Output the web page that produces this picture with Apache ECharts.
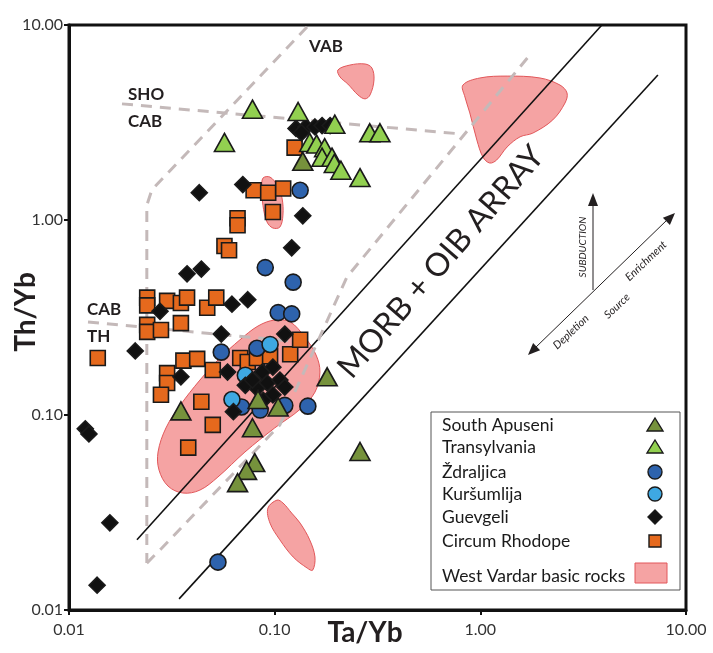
<!DOCTYPE html>
<html>
<head>
<meta charset="utf-8">
<script src="https://cdn.jsdelivr.net/npm/echarts@6/dist/echarts.min.js"></script>
<style>html,body{margin:0;padding:0;background:#fff}#chart{width:713px;height:653px}</style>
</head>
<body>
<div id="chart"></div>
<script>
// ---- Data (Ta/Yb, Th/Yb) ----
const tickLabels = ['0.01', '0.10', '1.00', '10.00'];
const axisTitles = ['Ta/Yb', 'Th/Yb'];
const seriesNames = ['South Apuseni', 'Transylvania', 'Ždraljica', 'Kuršumlija', 'Guevgeli', 'Circum Rhodope'];
const areaName = 'West Vardar basic rocks';

const southApuseni = [[0.035,0.105],[0.078,0.086],[0.080,0.057],[0.073,0.052],[0.066,0.045],[0.18,0.157],[0.26,0.065],[0.083,0.12],[0.104,0.11],[0.137,2.0]];
const transylvania = [[0.057,2.5],[0.078,3.7],[0.13,3.6],[0.196,3.1],[0.29,2.8],[0.325,2.8],[0.148,2.5],[0.16,2.45],[0.175,2.35],[0.17,2.1],[0.19,2.1],[0.195,1.95],[0.21,1.8],[0.26,1.65]];
const zdraljica = [[0.133,1.42],[0.09,0.57],[0.123,0.48],[0.104,0.335],[0.121,0.33],[0.055,0.21],[0.069,0.11],[0.085,0.106],[0.112,0.112],[0.145,0.111],[0.082,0.22],[0.053,0.0176]];
const kursumlija = [[0.095,0.23],[0.072,0.16],[0.062,0.12]];
const guevgeli = [[0.043,1.38],[0.07,1.52],[0.137,1.05],[0.121,0.72],[0.0375,0.53],[0.044,0.56],[0.062,0.37],[0.074,0.39],[0.0277,0.34],[0.021,0.213],[0.012,0.085],[0.0125,0.08],[0.0158,0.028],[0.0137,0.0134],[0.127,2.95],[0.142,3.0],[0.157,3.0],[0.17,3.05],[0.186,3.05],[0.135,2.8],[0.055,0.26],[0.112,0.26],[0.059,0.166],[0.087,0.166],[0.098,0.176],[0.092,0.146],[0.106,0.151],[0.112,0.139],[0.082,0.137],[0.072,0.142],[0.098,0.127],[0.088,0.119],[0.063,0.104],[0.078,0.151],[0.035,0.157]];
const circumRhodope = [[0.125,2.35],[0.079,1.42],[0.093,1.38],[0.11,1.45],[0.098,1.1],[0.066,1.02],[0.066,0.94],[0.057,0.735],[0.060,0.70],[0.024,0.40],[0.024,0.365],[0.030,0.385],[0.035,0.375],[0.0375,0.40],[0.047,0.355],[0.052,0.40],[0.024,0.29],[0.024,0.267],[0.028,0.273],[0.035,0.296],[0.036,0.19],[0.042,0.194],[0.030,0.164],[0.030,0.146],[0.028,0.127],[0.050,0.17],[0.044,0.117],[0.050,0.089],[0.038,0.068],[0.068,0.196],[0.074,0.187],[0.082,0.196],[0.095,0.2],[0.119,0.205],[0.133,0.243],[0.0138,0.196]];

// West Vardar basic rocks fields (outline vertices, data units)
const wvMain = [[0.0678,0.243],[0.083,0.286],[0.100,0.307],[0.119,0.300],[0.140,0.251],[0.159,0.203],[0.166,0.166],[0.157,0.131],[0.133,0.107],[0.100,0.0858],[0.0717,0.0646],[0.053,0.0481],[0.0433,0.0412],[0.0358,0.0398],[0.0303,0.0432],[0.0274,0.0522],[0.0271,0.0646],[0.0296,0.0858],[0.0347,0.112],[0.0433,0.151],[0.0542,0.196]];
const wvTop = [[0.203,5.88],[0.232,6.23],[0.275,6.31],[0.297,6.02],[0.304,5.22],[0.291,4.38],[0.275,4.18],[0.254,4.38],[0.227,4.98],[0.208,5.41]];
const wvRight = [[0.823,4.92],[0.995,5.35],[1.35,5.47],[1.95,5.35],[2.44,4.92],[2.64,4.48],[2.58,3.98],[2.25,3.26],[1.80,2.79],[1.56,2.67],[1.35,2.37],[1.20,2.03],[1.11,1.96],[1.03,2.10],[0.962,2.57],[0.889,3.54],[0.842,4.27]];
const wvSmall = [[0.0877,1.64],[0.0949,1.66],[0.1026,1.51],[0.1085,1.30],[0.1097,1.06],[0.106,0.92],[0.098,0.91],[0.0918,0.977],[0.0877,1.19],[0.0868,1.46]];
const wvLow = [[0.1026,0.0366],[0.1097,0.0354],[0.121,0.0314],[0.133,0.0279],[0.148,0.0229],[0.157,0.0187],[0.153,0.0160],[0.144,0.0164],[0.123,0.0187],[0.106,0.0229],[0.0949,0.0279],[0.0927,0.0333]];

// Array boundaries (solid) and field boundaries (dashed)
const arrayUpper = [[0.0214,0.0229],[3.90,10]];
const arrayLower = [[0.0343,0.0114],[7.30,5.54]];
const shoCabLine = [[0.0181,3.94],[0.814,2.76]];
const cabThLine = [[0.01237,0.300],[0.1327,0.237]];
const vabUpperLeft = [[0.1436,9.77],[0.0253,1.43],[0.0239,1.19],[0.0239,0.0174]];
const vabLower = [[0.0239,0.0174],[0.0283,0.0208],[0.106,0.0889],[0.2246,0.51],[1.74,7.02]];

const FONT = 'Lato, "Open Sans", sans-serif';
const chart = echarts.init(document.getElementById('chart'), null, {renderer: 'canvas'});

const styles = {
  'South Apuseni': {symbol: 'triangle', size: [20, 18], color: '#76923c'},
  'Transylvania': {symbol: 'triangle', size: [20, 18], color: '#92d050'},
  'Ždraljica': {symbol: 'circle', size: 16, color: '#2e63ad'},
  'Kuršumlija': {symbol: 'circle', size: 16, color: '#3ea8e2'},
  'Guevgeli': {symbol: 'diamond', size: [16, 16], color: '#111111'},
  'Circum Rhodope': {symbol: 'rect', size: 15, color: '#e5691d'}
};
const dataMap = {
  'South Apuseni': southApuseni, 'Transylvania': transylvania, 'Ždraljica': zdraljica,
  'Kuršumlija': kursumlija, 'Guevgeli': guevgeli, 'Circum Rhodope': circumRhodope
};
const drawOrder = ['Circum Rhodope', 'Ždraljica', 'Kuršumlija', 'Guevgeli', 'South Apuseni', 'Transylvania'];

const polys = [wvMain, wvTop, wvRight, wvSmall, wvLow];

function lineSeries(data, dashed) {
  return {
    type: 'line', data: data, symbol: 'none', silent: true, z: 3, clip: true,
    lineStyle: dashed ? {color: '#c4b9b9', width: 3, type: [11, 8]} : {color: '#111', width: 1.6}
  };
}

const series = [
  {
    type: 'custom', name: areaName, coordinateSystem: 'cartesian2d', silent: true, z: 1,
    data: polys.map(p => p[0]),
    renderItem: function (params, api) {
      const pts = polys[params.dataIndex].map(p => api.coord(p));
      return {type: 'polygon', shape: {points: pts, smooth: 0.35},
        style: {fill: '#f5a3a3', stroke: '#e2575a', lineWidth: 1}};
    }
  },
  lineSeries(arrayUpper, false), lineSeries(arrayLower, false),
  lineSeries(shoCabLine, true), lineSeries(cabThLine, true),
  lineSeries(vabUpperLeft, true), lineSeries(vabLower, true)
];
drawOrder.forEach((n, i) => {
  const s = styles[n];
  series.push({
    type: 'scatter', name: n, data: dataMap[n], symbol: s.symbol, symbolSize: s.size, z: 5 + i,
    itemStyle: {color: s.color, borderColor: '#1a1a1a', borderWidth: 1.6, opacity: 1}
  });
});

// Legend (drawn as graphics)
const legendY = [425, 447, 472, 494, 517, 541];
const legendFont = '17.5px ' + FONT;
const legendGraphics = [{type: 'rect', shape: {x: 431, y: 412, width: 249, height: 178},
  style: {fill: '#fff', stroke: '#555', lineWidth: 1}, z: 50}];
seriesNames.forEach((n, i) => {
  const y = legendY[i], s = styles[n];
  legendGraphics.push({type: 'text', x: 442, y: y, z: 51,
    style: {text: n, font: legendFont, fill: '#1a1a1a', textVerticalAlign: 'middle'}});
  const st = {fill: s.color, stroke: '#1a1a1a', lineWidth: 1.4};
  if (s.symbol === 'triangle') legendGraphics.push({type: 'polygon', z: 51, shape: {points: [[655, y - 7], [663, y + 6], [647, y + 6]]}, style: st});
  else if (s.symbol === 'circle') legendGraphics.push({type: 'circle', z: 51, shape: {cx: 655, cy: y, r: 7}, style: st});
  else if (s.symbol === 'diamond') legendGraphics.push({type: 'polygon', z: 51, shape: {points: [[655, y - 7], [662, y], [655, y + 7], [648, y]]}, style: st});
  else legendGraphics.push({type: 'rect', z: 51, shape: {x: 649, y: y - 6, width: 12, height: 12}, style: st});
});
legendGraphics.push({type: 'text', x: 442, y: 576, z: 51,
  style: {text: areaName, font: legendFont, fill: '#1a1a1a', textVerticalAlign: 'middle'}});
legendGraphics.push({type: 'rect', z: 51, shape: {x: 635, y: 563, width: 32, height: 20},
  style: {fill: '#f5a3a3', stroke: '#e2575a', lineWidth: 1}});

function txt(t, x, y, font, rot, align) {
  return {type: 'text', x: x, y: y, rotation: rot || 0, z: 40,
    style: {text: t, font: font, fill: '#231f20', textAlign: align || 'center', textVerticalAlign: 'middle'}};
}
const d2r = Math.PI / 180;
const annot = [
  txt(axisTitles[0], 365, 633, 'bold 28px ' + FONT),
  txt(axisTitles[1], 26, 312, 'bold 28px ' + FONT, 90 * d2r),
  txt('VAB', 326, 47, 'bold 17px ' + FONT),
  txt('SHO', 128, 95, 'bold 17px ' + FONT, 0, 'left'),
  txt('CAB', 128, 122, 'bold 17px ' + FONT, 0, 'left'),
  txt('CAB', 87, 310, 'bold 17px ' + FONT, 0, 'left'),
  txt('TH', 87, 337, 'bold 17px ' + FONT, 0, 'left'),
  txt('MORB + OIB ARRAY', 441, 262, '32px ' + FONT, 49 * d2r),
  txt('SUBDUCTION', 583, 247, 'italic 10px ' + FONT, 90 * d2r),
  txt('Depletion', 571, 332, 'italic 11px ' + FONT, 43.5 * d2r),
  txt('Source', 617, 306, 'italic 11px ' + FONT, 43.5 * d2r),
  txt('Enrichment', 646, 261, 'italic 11px ' + FONT, 43.5 * d2r),
  {type: 'line', z: 40, shape: {x1: 593, y1: 290, x2: 593, y2: 203}, style: {stroke: '#231f20', lineWidth: 1}},
  {type: 'polygon', z: 40, shape: {points: [[593, 193], [588, 206], [598, 206]]}, style: {fill: '#231f20'}},
  {type: 'line', z: 40, shape: {x1: 534, y1: 349, x2: 668, y2: 219}, style: {stroke: '#231f20', lineWidth: 1}},
  {type: 'polygon', z: 40, shape: {points: [[675, 213], [669.9, 224.9], [662.9, 217.7]]}, style: {fill: '#231f20'}},
  {type: 'polygon', z: 40, shape: {points: [[528, 355], [540.1, 350.3], [533.1, 343.1]]}, style: {fill: '#231f20'}}
];

const axisCommon = {
  type: 'log', logBase: 10, min: 0.01, max: 10,
  splitLine: {show: false},
  axisLine: {show: true, lineStyle: {color: '#111', width: 3}},
  axisTick: {show: true, inside: false, length: 5, lineStyle: {color: '#111', width: 2}},
  minorTick: {show: false},
  axisLabel: {
    color: '#333', fontSize: 16, fontFamily: FONT,
    formatter: v => tickLabels[Math.round(Math.log10(v)) + 2] || ''
  }
};

chart.setOption({
  animation: false,
  backgroundColor: '#fff',
  grid: {left: 69, right: 27, top: 25, bottom: 43, containLabel: false, outerBoundsMode: 'none',
    show: true, borderColor: '#111', borderWidth: 3, backgroundColor: 'transparent'},
  xAxis: Object.assign({}, axisCommon, {axisLabel: Object.assign({}, axisCommon.axisLabel, {margin: 12})}),
  yAxis: Object.assign({}, axisCommon, {axisLabel: Object.assign({}, axisCommon.axisLabel, {margin: 6})}),
  series: series,
  graphic: annot.concat(legendGraphics)
});
</script>
</body>
</html>
